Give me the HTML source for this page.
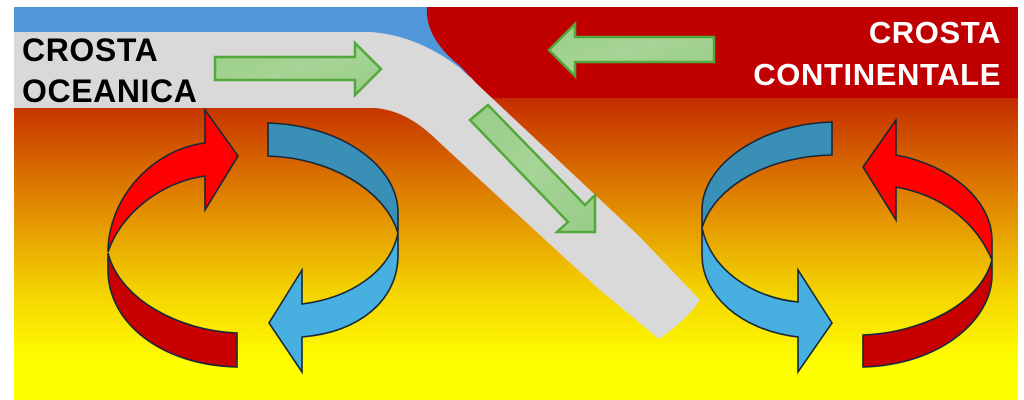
<!DOCTYPE html>
<html><head><meta charset="utf-8"><style>
html,body{margin:0;padding:0;background:#fff;}
svg{display:block;}
text{font-family:"Liberation Sans",Arial,sans-serif;font-weight:bold;}
</style></head><body>
<svg width="1024" height="400" viewBox="0 0 1024 400" xmlns="http://www.w3.org/2000/svg">
<defs>
<linearGradient id="mantle" x1="0" y1="0" x2="0" y2="1" gradientUnits="objectBoundingBox">
<stop offset="0" stop-color="#c42a00"/>
<stop offset="0.35" stop-color="#e08600"/>
<stop offset="0.65" stop-color="#f4d400"/>
<stop offset="0.88" stop-color="#ffff00"/>
<stop offset="1" stop-color="#ffff00"/>
</linearGradient>
<linearGradient id="gr" x1="0" y1="0" x2="1" y2="1">
<stop offset="0" stop-color="#98cc88"/>
<stop offset="0.5" stop-color="#a6d496"/>
<stop offset="1" stop-color="#98cc88"/>
</linearGradient>
</defs>
<!-- mantle -->
<rect x="14" y="95" width="1004" height="305" fill="url(#mantle)"/>
<!-- ocean -->
<rect x="14" y="7" width="470" height="70" fill="#5198da"/>
<!-- continental crust -->
<path d="M427,7 L1018,7 L1018,98 L490,98 L460,66 C440,50 425,30 427,7 Z" fill="#c00000"/>
<!-- slab -->
<path d="M14,32 L370,32 C400,34 430,45 460,68 L640,237 L700,300 C690,315 675,328 659,339 L600,290 L567,260 L440,143 C420,123 400,110 375,108 L14,108 Z" fill="#d9d9d9"/>
<!-- green arrows -->
<g fill="url(#gr)" stroke="#52a838" stroke-width="2.5" stroke-linejoin="miter">
<path d="M215,57 L355,57 L355,43 L381,69 L355,95 L355,80 L215,80 Z"/>
<path d="M714,37 L575,37 L575,24 L549,50 L575,76 L575,62 L714,62 Z"/>
<path d="M488,105 L585,205 L595,195 L595,232 L557,232 L568,222 L470,120 Z"/>
</g>
<!-- left cycle -->
<g stroke="#16283a" stroke-width="1.6" stroke-linejoin="miter">
<path d="M108,252 C108,200 150,150 205,143 L205,110 L238,156 L205,210 L205,176 C160,182 120,215 108,252 Z" fill="#ff0000"/>
<path d="M108,253 C120,300 180,331 237,333 L237,367 C160,365 108,322 108,270 Z" fill="#c80000"/>
<path d="M268,123 C340,125 398,165 398,213 L398,233 C385,190 330,158 268,156 Z" fill="#3a8fb7"/>
<path d="M398,233 C390,272 350,298 302,304 L302,270 L269,323 L302,372 L302,337 C360,332 398,300 398,255 Z" fill="#47b0e0"/>
</g>
<!-- right cycle -->
<g stroke="#16283a" stroke-width="1.6" stroke-linejoin="miter">
<path d="M832,122 C760,124 702,165 702,210 L702,228 C715,185 770,156 832,155 Z" fill="#3a8fb7"/>
<path d="M702,228 C712,272 755,298 798,302 L798,270 L832,323 L798,372 L798,337 C740,330 702,295 702,255 Z" fill="#47b0e0"/>
<path d="M863,167 L896,120 L896,155 C950,165 992,200 992,240 L992,260 C975,220 940,195 896,187 L896,220 Z" fill="#ff0000"/>
<path d="M992,260 C980,305 920,333 863,335 L863,367 C940,365 992,320 992,275 Z" fill="#c80000"/>
</g>
<!-- labels -->
<text x="22" y="61" font-size="32" fill="#000" letter-spacing="0.6">CROSTA</text>
<text x="22" y="102" font-size="32" fill="#000" letter-spacing="0.6">OCEANICA</text>
<text x="1001" y="43" font-size="31" fill="#fff" text-anchor="end" letter-spacing="0.6">CROSTA</text>
<text x="1001" y="85" font-size="31" fill="#fff" text-anchor="end" letter-spacing="0.6">CONTINENTALE</text>
</svg>
</body></html>
